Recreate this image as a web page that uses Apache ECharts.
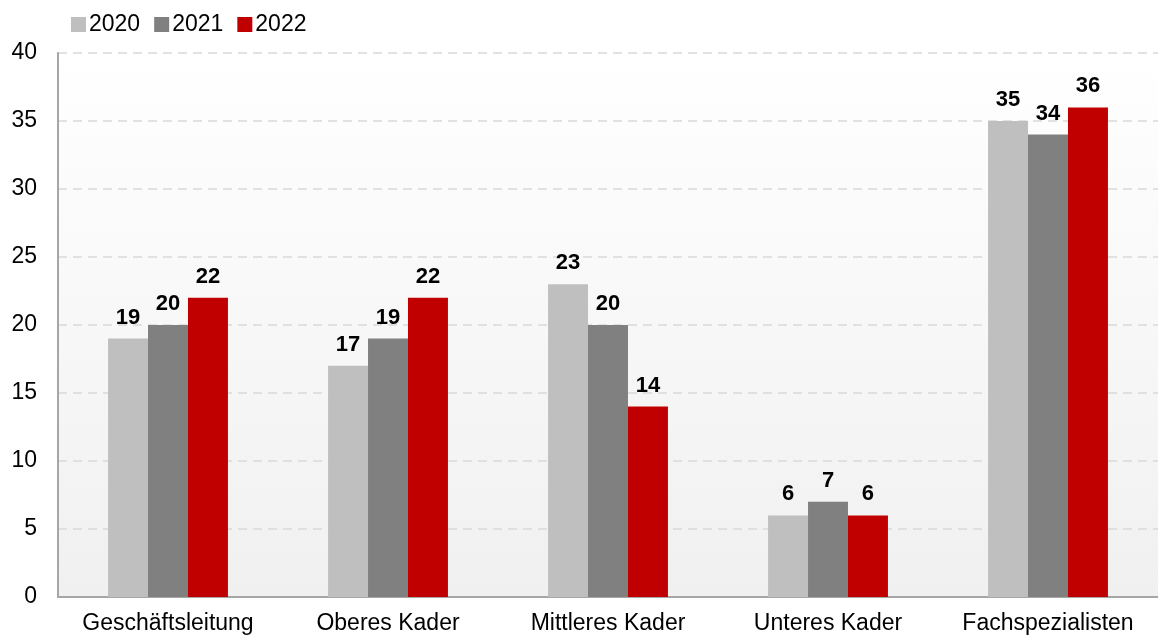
<!DOCTYPE html>
<html>
<head>
<meta charset="utf-8">
<script src="https://cdn.jsdelivr.net/npm/echarts@6/dist/echarts.min.js"></script>
<style>
body { margin: 0; background: #fff; }
#chart { width: 1158px; height: 642px; }
</style>
</head>
<body>
<div id="chart"></div>
<script>
var categories = ['Geschäftsleitung', 'Oberes Kader', 'Mittleres Kader', 'Unteres Kader', 'Fachspezialisten'];
var years = ['2020', '2021', '2022'];
var values2020 = [19, 17, 23, 6, 35];
var values2021 = [20, 19, 20, 7, 34];
var values2022 = [22, 22, 14, 6, 36];
var colors = ['#bfbfbf', '#808080', '#c00000'];

var font = 'Liberation Sans, Arial, sans-serif';

function makeSeries(name, data, color) {
  return {
    name: name,
    type: 'bar',
    data: data,
    barGap: 0,
    barCategoryGap: '45.5%',
    itemStyle: { color: color },
    label: {
      show: true,
      position: 'top',
      distance: 10,
      color: '#000',
      fontWeight: 'bold',
      fontSize: 22,
      fontFamily: font
    }
  };
}

var myChart = echarts.init(document.getElementById('chart'));
var option = {
  animation: false,
  backgroundColor: '#fff',
  textStyle: { fontFamily: font },
  legend: {
    left: 66,
    top: 8,
    itemWidth: 15,
    itemHeight: 15,
    itemGap: 14,
    icon: 'rect',
    textStyle: { fontSize: 23, color: '#000', fontFamily: font, padding: [0, 0, 0, -2] },
    data: years
  },
  grid: {
    left: 58,
    right: 0,
    top: 53,
    bottom: 45,
    show: true,
    borderWidth: 0,
    backgroundColor: new echarts.graphic.LinearGradient(0, 0, 0, 1, [
      { offset: 0, color: '#ffffff' },
      { offset: 1, color: '#f0f0f0' }
    ])
  },
  xAxis: {
    type: 'category',
    data: categories,
    axisLine: { lineStyle: { color: '#a6a6a6', width: 2 } },
    axisTick: { show: false },
    axisLabel: { color: '#000', fontSize: 23, margin: 15, interval: 0, fontFamily: font }
  },
  yAxis: {
    type: 'value',
    min: 0,
    max: 40,
    interval: 5,
    axisLine: { show: true, lineStyle: { color: '#a6a6a6', width: 2 } },
    axisTick: { show: false },
    axisLabel: { color: '#000', fontSize: 23, margin: 21, fontFamily: font },
    splitLine: { lineStyle: { color: '#d9d9d9', type: [9, 6], width: 1.5 } }
  },
  series: [
    makeSeries(years[0], values2020, colors[0]),
    makeSeries(years[1], values2021, colors[1]),
    makeSeries(years[2], values2022, colors[2])
  ]
};
myChart.setOption(option);
</script>
</body>
</html>
